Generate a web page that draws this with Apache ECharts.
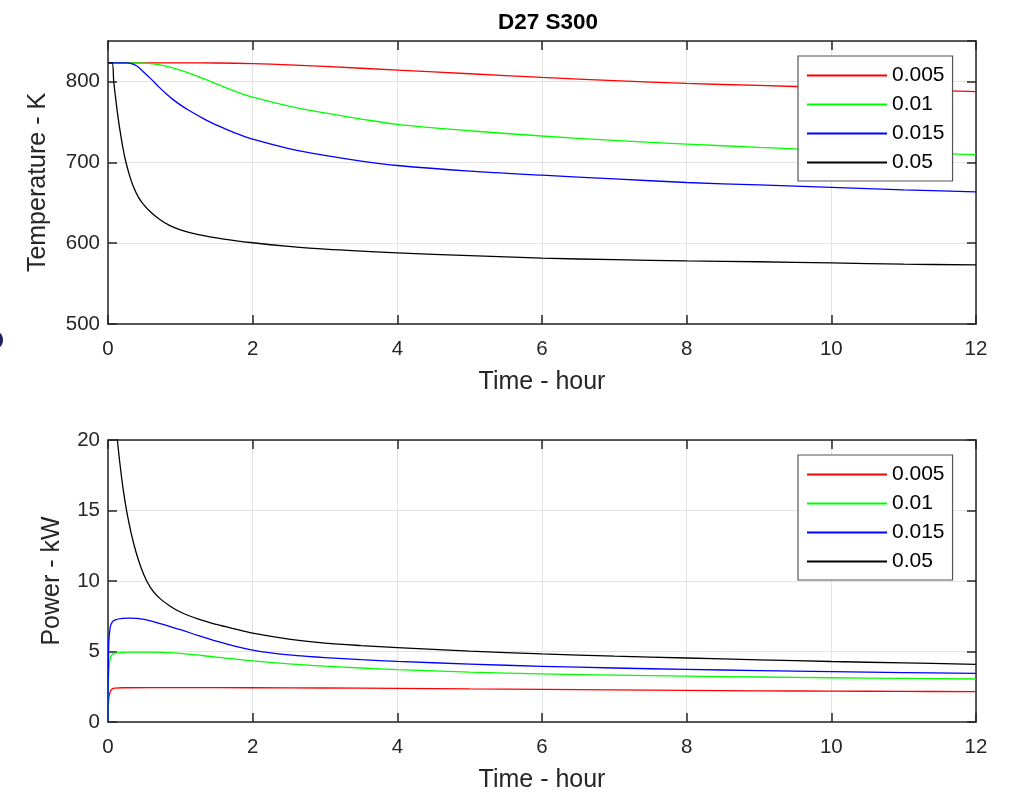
<!DOCTYPE html>
<html>
<head>
<meta charset="utf-8">
<script src="https://cdn.jsdelivr.net/npm/echarts@6/dist/echarts.min.js"></script>
<style>html,body{margin:0;padding:0;background:#fff;}#c{width:1010px;height:794px;}</style>
</head>
<body>
<div id="c"></div>
<script>
// ---- Data ----
const seriesNames = ['0.005', '0.01', '0.015', '0.05'];
const xTicks = [0, 2, 4, 6, 8, 10, 12];

// Temperature (K) vs time (hour)
const tTempRed = [0, 1, 1.5, 2, 2.5, 3, 4, 5, 6, 7, 8, 9, 10, 11, 12];
const tempRed = [823, 823, 822.8, 822, 820.5, 818.5, 814, 809.5, 805, 801, 797.5, 795, 792.5, 790, 787.5];

const tTempGreen = [0, 0.4, 0.6, 0.8, 1, 1.25, 1.5, 1.75, 2, 2.5, 3, 3.5, 4, 5, 6, 7, 8, 9, 10, 11, 12];
const tempGreen = [823, 823, 822, 819, 814, 806, 797, 788, 780.5, 769.5, 761, 753.5, 747, 739, 732.5, 727, 722.5, 718.5, 715, 712, 709.5];

const tTempBlue = [0, 0.25, 0.3, 0.4, 0.5, 0.6, 0.7, 0.8, 0.9, 1, 1.1, 1.2, 1.3, 1.4, 1.5, 1.75, 2, 2.5, 3, 3.5, 4, 5, 6, 7, 8, 9, 10, 11, 12];
const tempBlue = [823, 823, 822.5, 819, 811, 802.5, 793.5, 785, 777.5, 771, 765.3, 760, 755, 750.3, 746, 736.5, 728.5, 717, 708.5, 701.5, 696, 689, 684, 679.5, 675, 672, 669, 666, 663.5];

const tTempBlack = [0, 0.055, 0.08, 0.11, 0.14, 0.17, 0.2, 0.235, 0.29, 0.35, 0.42, 0.49, 0.6, 0.72, 0.85, 1, 1.25, 1.6, 2, 2.5, 3, 4, 5, 6, 7, 8, 9, 10, 11, 12];
const tempBlack = [823, 823, 799, 776, 755, 737, 721, 705, 686, 670, 657, 648, 637.5, 629, 622, 616.5, 610.5, 605, 600.5, 596, 592.5, 588, 584.5, 581.5, 579.5, 578, 577, 575.5, 574, 573];

// Power (kW) vs time (hour)
const tPowRed = [0, 0.01, 0.03, 0.06, 0.1, 0.2, 1, 2, 3, 4, 5, 6, 7, 8, 9, 10, 11, 12];
const powRed = [0, 1.6, 2.15, 2.35, 2.4, 2.43, 2.44, 2.43, 2.41, 2.39, 2.35, 2.32, 2.28, 2.24, 2.21, 2.19, 2.17, 2.15];

const tPowGreen = [0, 0.01, 0.03, 0.06, 0.1, 0.3, 0.6, 1, 1.5, 2, 2.5, 3, 3.5, 4, 5, 6, 7, 8, 9, 10, 11, 12];
const powGreen = [0, 3.5, 4.5, 4.8, 4.88, 4.96, 4.95, 4.87, 4.6, 4.33, 4.12, 3.96, 3.83, 3.72, 3.54, 3.41, 3.32, 3.25, 3.19, 3.14, 3.09, 3.05];

const tPowBlue = [0, 0.01, 0.03, 0.06, 0.1, 0.2, 0.3, 0.4, 0.5, 0.6, 0.72, 0.85, 1, 1.25, 1.5, 1.75, 2, 2.25, 2.5, 2.75, 3, 3.5, 4, 5, 6, 7, 8, 9, 10, 11, 12];
const powBlue = [0, 5.5, 6.7, 7.1, 7.25, 7.35, 7.37, 7.35, 7.28, 7.16, 6.98, 6.78, 6.55, 6.13, 5.73, 5.38, 5.1, 4.9, 4.76, 4.655, 4.57, 4.42, 4.3, 4.11, 3.95, 3.83, 3.73, 3.65, 3.57, 3.5, 3.45];

const tPowBlack = [0, 0.05, 0.09, 0.13, 0.17, 0.21, 0.26, 0.32, 0.39, 0.46, 0.535, 0.62, 0.72, 0.85, 1, 1.25, 1.5, 1.75, 2, 2.5, 3, 3.5, 4, 5, 6, 7, 8, 9, 10, 11, 12];
const powBlack = [40, 27, 22.5, 20, 18.1, 16.5, 14.9, 13.4, 12.0, 10.9, 10.0, 9.3, 8.75, 8.25, 7.8, 7.3, 6.92, 6.6, 6.3, 5.88, 5.6, 5.42, 5.28, 5.03, 4.83, 4.67, 4.54, 4.41, 4.29, 4.19, 4.09];

const colors = ['#ff0000', '#00ff00', '#0000ff', '#000000'];
const tempSets = [[tTempRed, tempRed], [tTempGreen, tempGreen], [tTempBlue, tempBlue], [tTempBlack, tempBlack]];
const powSets = [[tPowRed, powRed], [tPowGreen, powGreen], [tPowBlue, powBlue], [tPowBlack, powBlack]];

// ---- Chart ----
const FONT = 'Liberation Sans, Arial, Helvetica, sans-serif';
const AX = '#262626';
const chart = echarts.init(document.getElementById('c'), null, { renderer: 'canvas' });

function pairs(t, v) { return t.map((x, i) => [x, v[i]]); }

const grids = [
  { left: 108, right: 34, top: 41, height: 283 },
  { left: 108, right: 34, top: 440, height: 282 }
];

function xAxes(gi) {
  return [
    {
      gridIndex: gi, type: 'value', min: 0, max: 12, interval: 2, position: 'bottom',
      name: 'Time - hour', nameLocation: 'middle', nameGap: 46,
      nameTextStyle: { fontFamily: FONT, fontSize: 25, color: AX },
      axisLine: { show: true, onZero: false, lineStyle: { color: AX, width: 1.5 } },
      axisTick: { show: true, inside: true, length: 9, lineStyle: { color: AX, width: 1.5 } },
      axisLabel: { fontFamily: FONT, fontSize: 20.5, color: AX, margin: 15,
        formatter: v => xTicks.indexOf(v) >= 0 ? String(v) : '' },
      splitLine: { show: true, lineStyle: { color: '#e3e3e3', width: 1 } }
    },
    {
      gridIndex: gi, type: 'value', min: 0, max: 12, interval: 2, position: 'top',
      axisLine: { show: true, onZero: false, lineStyle: { color: AX, width: 1.5 } },
      axisTick: { show: true, inside: true, length: 9, lineStyle: { color: AX, width: 1.5 } },
      axisLabel: { show: false }, splitLine: { show: false }
    }
  ];
}

function yAxes(gi, min, max, interval, name, gap) {
  return [
    {
      gridIndex: gi, type: 'value', min: min, max: max, interval: interval, position: 'left',
      name: name, nameLocation: 'middle', nameGap: gap,
      nameTextStyle: { fontFamily: FONT, fontSize: 25, color: AX },
      axisLine: { show: true, onZero: false, lineStyle: { color: AX, width: 1.5 } },
      axisTick: { show: true, inside: true, length: 9, lineStyle: { color: AX, width: 1.5 } },
      axisLabel: { fontFamily: FONT, fontSize: 20.5, color: AX, margin: 8,
        showMaxLabel: max % interval === 0 },
      splitLine: { show: true, lineStyle: { color: '#e3e3e3', width: 1 } }
    },
    {
      gridIndex: gi, type: 'value', min: min, max: max, interval: interval, position: 'right',
      axisLine: { show: true, onZero: false, lineStyle: { color: AX, width: 1.5 } },
      axisTick: { show: true, inside: true, length: 9, lineStyle: { color: AX, width: 1.5 } },
      axisLabel: { show: false }, splitLine: { show: false }
    }
  ];
}

const series = [];
tempSets.forEach((s, i) => {
  series.push({
    name: seriesNames[i], type: 'line', xAxisIndex: 0, yAxisIndex: 0,
    data: pairs(s[0], s[1]), showSymbol: false, symbol: 'none', smooth: 0.35,
    lineStyle: { color: colors[i], width: 1.3 }, itemStyle: { color: colors[i] },
    clip: true, animation: false, z: 3
  });
});
powSets.forEach((s, i) => {
  series.push({
    name: seriesNames[i], type: 'line', xAxisIndex: 2, yAxisIndex: 2,
    data: pairs(s[0], s[1]), showSymbol: false, symbol: 'none', smooth: 0.35,
    lineStyle: { color: colors[i], width: 1.3 }, itemStyle: { color: colors[i] },
    clip: true, animation: false, z: 3
  });
});

function legend(top) {
  return {
    data: seriesNames, orient: 'vertical', left: 798, top: top,
    itemWidth: 80, itemHeight: 14, itemGap: 8,
    padding: [9, 8, 8, 8],
    backgroundColor: '#ffffff', borderColor: '#555555', borderWidth: 1.2, borderRadius: 0,
    textStyle: { fontFamily: FONT, fontSize: 21, color: '#000', padding: [0, 0, 0, 0] },
    itemStyle: { opacity: 0 }, selectedMode: false, z: 10
  };
}

chart.setOption({
  animation: false,
  backgroundColor: '#ffffff',
  title: {
    text: 'D27 S300', left: 493, top: 6,
    textStyle: { fontFamily: FONT, fontSize: 22.5, fontWeight: 'bold', color: '#000' }
  },
  grid: grids,
  xAxis: [...xAxes(0), ...xAxes(1)],
  yAxis: [...yAxes(0, 500, 850, 100, 'Temperature - K', 57), ...yAxes(1, 0, 20, 5, 'Power - kW', 43)],
  legend: [legend(56), legend(455)],
  graphic: [{ type: 'ellipse', shape: { cx: -3, cy: 340, rx: 6, ry: 8 }, style: { fill: '#1f1f66' } }],
  series: series
});
</script>
</body>
</html>
